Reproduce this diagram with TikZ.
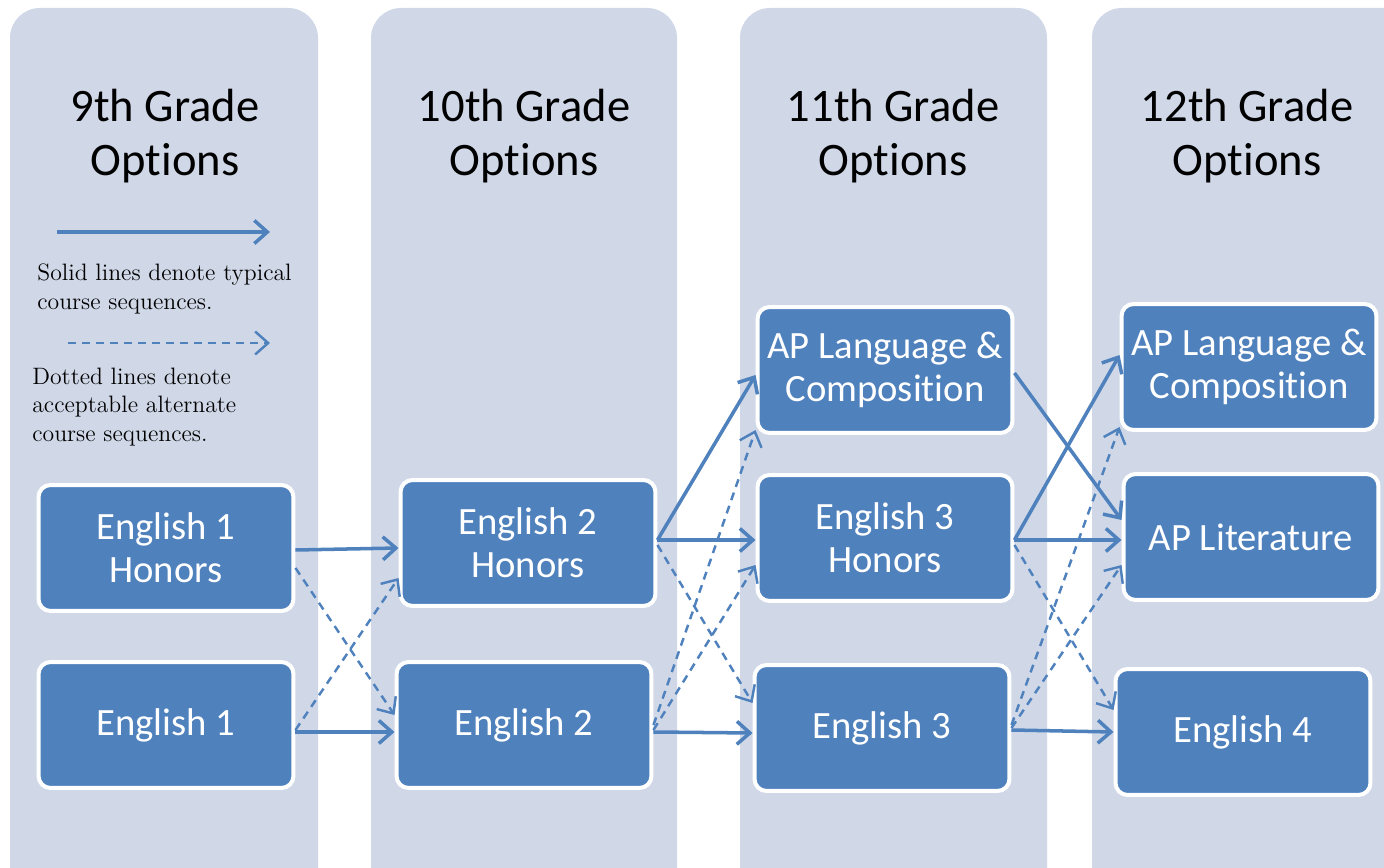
\documentclass[tikz,border=0pt]{standalone}
\usepackage{fontspec}
\setsansfont{Carlito}[Ligatures=NoCommon]
\usepackage{xcolor}
\usetikzlibrary{arrows.meta,calc}
\definecolor{boxblue}{HTML}{4F81BD}
\definecolor{colbg}{HTML}{D0D8E8}

\begin{document}
\begin{tikzpicture}[x=0.02cm,y=-0.02cm,
        grade/.style={font=\sffamily\fontsize{26.5}{30.6}\selectfont, align=center},
        course/.style={draw=white, line width=0.08cm, fill=boxblue, rounded corners=0.24cm, minimum width=5.1cm, minimum height=2.52cm, inner sep=2pt, align=center, text=white, font=\sffamily\fontsize{22}{24.4}\selectfont},
        key/.style={font=\fontsize{13.5}{16.2}\selectfont, align=left, anchor=west, inner sep=0pt},
        typical/.style={draw=boxblue, line width=2pt, -{Straight Barb[length=0.26cm,width=0.46cm]}},
        alternate/.style={typical, line width=1.4pt, dash pattern=on 0.16cm off 0.12cm}]
        \useasboundingbox (0,0) rectangle (1384,868);
        \fill[white] (0,0) rectangle (1384,868);
        \clip (0,0) rectangle (1384,868);
        \fill[colbg, rounded corners=0.6cm] (10,900) -- (10,8) -- (318,8) -- (318,900);
        \fill[colbg, rounded corners=0.6cm] (371,900) -- (371,8) -- (677,8) -- (677,900);
        \fill[colbg, rounded corners=0.6cm] (740,900) -- (740,8) -- (1047,8) -- (1047,900);
        \fill[colbg, rounded corners=0.6cm] (1092,900) -- (1092,8) -- (1420,8) -- (1420,900);

        \node[grade] (g9) at (165,136) {9th Grade\\Options};
        \node[grade] (g10) at (524,136) {10th Grade\\Options};
        \node[grade] (g11) at (893,136) {11th Grade\\Options};
        \node[grade] (g12) at (1247,136) {12th Grade\\Options};

        \coordinate (keysolid) at (57,232);
        \coordinate (keysolidend) at (270,232);
        \coordinate (keydash) at (68,343);
        \coordinate (keydashend) at (270,343);
        \draw[typical] (keysolid) -- (keysolidend);
        \draw[alternate] (keydash) -- (keydashend);
        \node[key] (solidtext) at (37,289) {Solid lines denote typical\\course sequences.};
        \node[key] (dashtext) at (32,407) {Dotted lines denote\\acceptable alternate\\course sequences.};

        \node[course] (e1h) at (166,548) {English 1\\Honors};
        \node[course] (e1) at (166,725) {English 1};
        \node[course] (e2h) at (528,543) {English 2\\Honors};
        \node[course] (e2) at (524,725) {English 2};
        \node[course] (ap3) at (885,370) {AP Language \&\\Composition};
        \node[course] (e3h) at (885,538) {English 3\\Honors};
        \node[course] (e3) at (882,728) {English 3};
        \node[course] (ap4) at (1249,367) {AP Language \&\\Composition};
        \node[course] (lit) at (1251,537) {AP Literature};
        \node[course] (e4) at (1243,732) {English 4};

        \draw[typical] ($(e1h.east)+(0,2)$) -- ($(e2h.west)+(0,5)$);
        \draw[alternate] ($(e1h.east)+(0,20)$) -- ($(e2.west)+(0,-10)$);
        \draw[alternate] ($(e1.east)+(0,5)$) -- ($(e2h.west)+(0,35)$);
        \draw[typical] ($(e1.east)+(0,7)$) -- ($(e2.west)+(0,7)$);
        \draw[typical] ($(e2h.east)+(0,-3)$) -- ($(ap3.west)+(0,5)$);
        \draw[typical] ($(e2h.east)+(0,-3)$) -- ($(e3h.west)+(0,2)$);
        \draw[alternate] ($(e2h.east)+(0,2)$) -- ($(e3.west)+(0,-25)$);
        \draw[alternate] (e2.east) -- ($(ap3.west)+(0,60)$);
        \draw[alternate] ($(e2.east)+(0,5)$) -- ($(e3h.west)+(0,27)$);
        \draw[typical] ($(e2.east)+(0,7)$) -- ($(e3.west)+(0,5)$);
        \draw[typical] ($(ap3.east)+(0,3)$) -- ($(lit.west)+(0,-17)$);
        \draw[typical] ($(e3h.east)+(0,2)$) -- ($(ap4.west)+(0,-12)$);
        \draw[typical] ($(e3h.east)+(0,2)$) -- ($(lit.west)+(0,3)$);
        \draw[alternate] ($(e3h.east)+(0,7)$) -- ($(e4.west)+(0,-22)$);
        \draw[alternate] ($(e3.east)+(0,-3)$) -- ($(ap4.west)+(0,60)$);
        \draw[alternate] (e3.east) -- ($(lit.west)+(0,28)$);
        \draw[typical] ($(e3.east)+(0,2)$) -- (e4.west);
    \end{tikzpicture}
\end{document}
